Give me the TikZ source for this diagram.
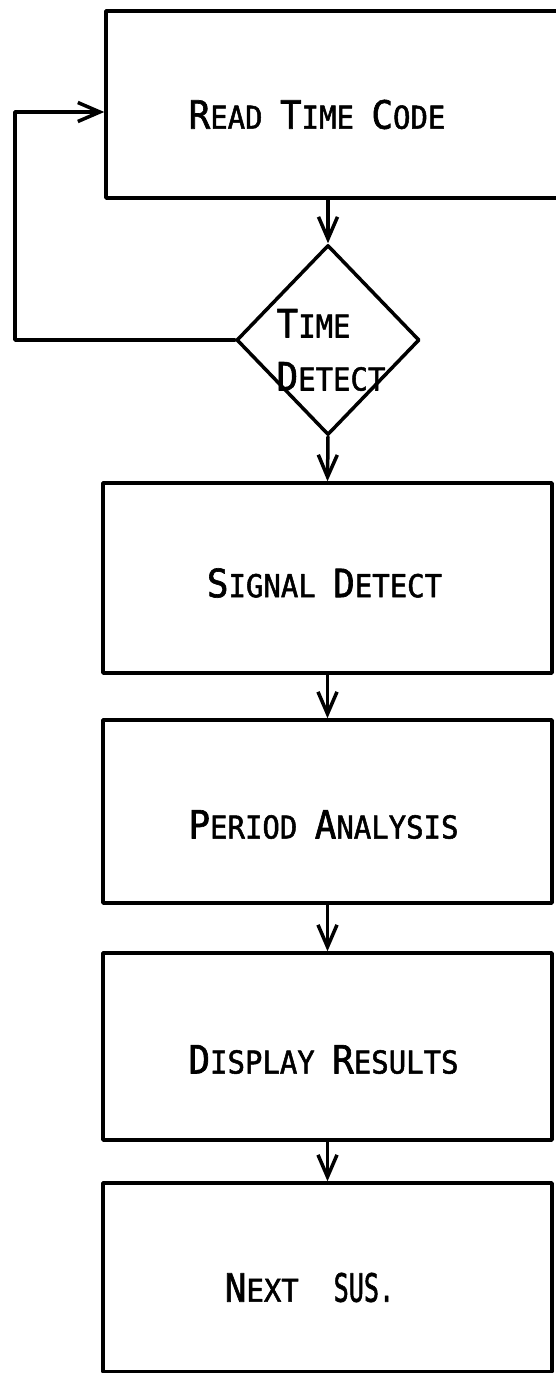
\documentclass[tikz,border=0pt]{standalone}
\usepackage{fontspec}
\usepackage{graphicx}
\usetikzlibrary{arrows.meta,shapes.geometric}
\newfontfamily\leroy[FakeStretch=0.92,FakeBold=1.6]{DejaVu Sans Mono}
\newcommand{\capfirst}[1]{{\fontsize{39}{40}\selectfont #1}}
\tikzset{
  chart/.style={
    line width=3.5pt,
    line cap=round,
    line join=round
  },
  blk/.style={
    rectangle,
    draw=black,
    line width=3.5pt,
    minimum width=449pt,
    inner sep=0pt
  },
  dec/.style={
    diamond,
    draw=black,
    line width=3.5pt,
    minimum width=183pt,
    minimum height=190pt,
    inner sep=0pt
  },
  lbl/.style={
    font=\leroy\fontsize{31.5}{53}\selectfont,
    inner sep=0pt,
    align=left
  },
  flow/.style={-{Straight Barb[length=22pt,width=19pt]}}
}

\begin{document}
\begin{tikzpicture}[x=1pt,y=-1pt,chart]
  \useasboundingbox (0,0) rectangle (555,1373);
  % blocks
  \node[blk, minimum width=452pt, minimum height=187pt] (rtc) at (332,104.5) {};
  \node[dec] (tdt) at (328,340) {};
  \node[blk, minimum height=190pt] (sig) at (327.5,578) {};
  \node[blk, minimum height=183pt] (per) at (327.5,811.5) {};
  \node[blk, minimum height=187pt] (dsp) at (327.5,1046.5) {};
  \node[blk, minimum height=189pt] (nxt) at (327.5,1277.5) {};
  % texts
  \node[lbl] (rtc-t) at ([shift={(-15,10)}]rtc.center)
    {\capfirst{R}EAD \capfirst{T}IME \capfirst{C}ODE};
  \node[lbl] (tdt-t) at (331,350) {\capfirst{T}IME\\\capfirst{D}ETECT};
  \node[lbl] (sig-t) at ([shift={(-3,5)}]sig.center)
    {\capfirst{S}IGNAL \capfirst{D}ETECT};
  \node[lbl] (per-t) at ([shift={(-4,13)}]per.center)
    {\capfirst{P}ERIOD \capfirst{A}NALYSIS};
  \node[lbl] (dsp-t) at ([shift={(-4,13)}]dsp.center)
    {\capfirst{D}ISPLAY \capfirst{R}ESULTS};
  \node[lbl] (nxt-t) at ([shift={(-18,10)}]nxt.center)
    {\capfirst{N}EXT\ \ \scalebox{0.7}[1]{\capfirst{SUS.}}};
  % connectors
  \draw[flow] (tdt.north |- rtc.south) -- (tdt.north);
  \draw[flow] (tdt.south) -- (sig.north);
  \draw[flow] (sig.south) -- (per.north);
  \draw[flow] (per.south) -- (dsp.north);
  \draw[flow] (dsp.south) -- (nxt.north);
  \coordinate (back) at (15,112);
  \draw[flow] (tdt.west) -| (back) -- (rtc.west |- back);
\end{tikzpicture}
\end{document}
